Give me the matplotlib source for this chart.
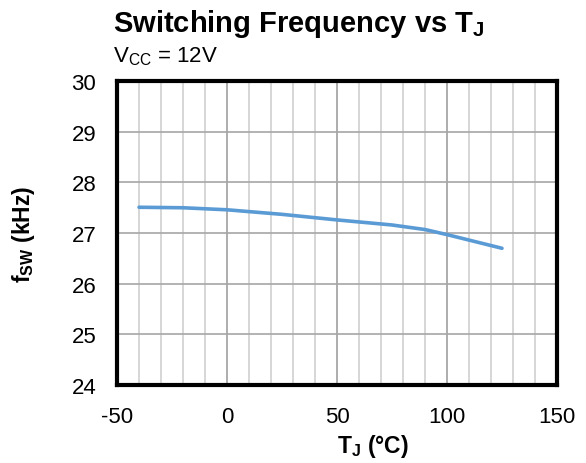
import matplotlib
matplotlib.use("Agg")
import matplotlib.pyplot as plt
import numpy as np

plt.rcParams['font.family'] = ['Liberation Sans', 'DejaVu Sans']
plt.rcParams['mathtext.fontset'] = 'custom'
plt.rcParams['mathtext.rm'] = 'Liberation Sans'
plt.rcParams['mathtext.it'] = 'Liberation Sans'
plt.rcParams['mathtext.bf'] = 'Liberation Sans:bold'
plt.rcParams['axes.unicode_minus'] = False

# junction temperature (C) and switching frequency (kHz)
tj = [-40, -20, 0, 25, 50, 75, 90, 100, 125]
fsw = [27.51, 27.50, 27.46, 27.37, 27.26, 27.16, 27.07, 26.97, 26.70]

x_ticks = [-50, 0, 50, 100, 150]
y_ticks = [24, 25, 26, 27, 28, 29, 30]

fig = plt.figure(figsize=(5.86, 4.64), dpi=100)
ax = fig.add_axes([0.1997, 0.168, 0.7508, 0.655])

# minor vertical grid every 10, major every 50
for xv in np.arange(-40, 150, 10):
    if xv % 50 != 0:
        ax.axvline(xv, color='#d0d0d0', lw=1.2, zorder=1)
for xv in [0, 50, 100]:
    ax.axvline(xv, color='#a0a0a0', lw=1.2, zorder=1)
for yv in range(25, 30):
    ax.axhline(yv, color='#a6a6a6', lw=1.2, zorder=1)

ax.plot(tj, fsw, color='#5b9bd5', lw=2.6, solid_capstyle='round', zorder=3)

ax.set_xlim(-50, 150)
ax.set_ylim(24, 30)
ax.set_xticks(x_ticks)
ax.set_yticks(y_ticks)
ax.tick_params(length=0, labelsize=16, pad=15)
for s in ax.spines.values():
    s.set_linewidth(3)
    s.set_color('black')

ax.set_xlabel(r'$\mathbf{T_J}$ (°C)', fontsize=16.5, fontweight='bold')
ax.xaxis.set_label_coords(0.582, -0.155)
ax.set_ylabel(r'$\mathbf{f_{SW}}$ (kHz)', fontsize=16.5, fontweight='bold')
ax.yaxis.set_label_coords(-0.182, 0.5)

fig.text(0.193, 0.93, r'Switching Frequency vs $\mathbf{T_J}$', fontsize=21,
         fontweight='bold', ha='left', va='baseline')
fig.text(0.193, 0.865, r'$\mathrm{V_{CC}}$ = 12V', fontsize=16, ha='left', va='baseline')

fig.savefig('out.png', dpi=100)
